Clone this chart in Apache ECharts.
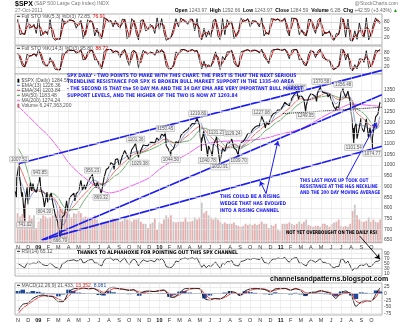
<!DOCTYPE html>
<html><head><meta charset="utf-8">
<script src="https://cdn.jsdelivr.net/npm/echarts@6/dist/echarts.min.js"></script>
<style>html,body{margin:0;padding:0;background:#fff}#c{width:400px;height:323px}</style>
</head><body><div id="c"></div>
<script>
// ---------------- DATA ----------------
const MONTH_LABELS = ['N','D','09','F','M','A','M','J','J','A','S','O','N','D','10','F','M','A','M','J','J','A','S','O','N','D','11','F','M','A','M','J','J','A','S','O'];
const PRICE_TICKS = [650,700,750,800,850,900,950,1000,1050,1100,1150,1200,1250,1300,1350];
const STO_TICKS = [20,50,80];
const RSI_TICKS = [10,30,50,70,90];
const MACD_TICKS = [25,0,-25,-50,-75];

const PRICE_DATES = ['2008-10-24','2008-10-27','2008-10-28','2008-10-31','2008-11-04','2008-11-05','2008-11-07','2008-11-12','2008-11-14','2008-11-20','2008-11-21','2008-11-21','2008-11-24','2008-11-28','2008-12-01','2008-12-05','2008-12-08','2008-12-12','2008-12-16','2008-12-19','2008-12-26','2008-12-31',
'2009-01-06','2009-01-09','2009-01-16','2009-01-20','2009-01-23','2009-01-28','2009-01-30','2009-02-02','2009-02-09','2009-02-13','2009-02-20','2009-02-27','2009-03-02','2009-03-06','2009-03-09','2009-03-13','2009-03-20','2009-03-26','2009-03-30','2009-04-03','2009-04-09','2009-04-17','2009-04-20','2009-04-24','2009-05-01','2009-05-08','2009-05-13','2009-05-15','2009-05-19','2009-05-22','2009-05-29','2009-06-05','2009-06-12','2009-06-15','2009-06-19','2009-06-23','2009-06-26','2009-07-02','2009-07-08','2009-07-10','2009-07-17','2009-07-24','2009-07-31','2009-08-07','2009-08-14','2009-08-17','2009-08-21','2009-08-28','2009-09-02','2009-09-11','2009-09-18','2009-09-25','2009-10-02','2009-10-09','2009-10-16','2009-10-21','2009-10-23','2009-10-30','2009-11-02','2009-11-06','2009-11-13','2009-11-20','2009-11-27','2009-12-04','2009-12-11','2009-12-18','2009-12-24','2009-12-31',
'2010-01-08','2010-01-15','2010-01-19','2010-01-22','2010-01-29','2010-02-05','2010-02-05','2010-02-12','2010-02-19','2010-02-26','2010-03-05','2010-03-12','2010-03-19','2010-03-26','2010-04-01','2010-04-09','2010-04-16','2010-04-23','2010-04-26','2010-04-30','2010-05-06','2010-05-06','2010-05-07','2010-05-13','2010-05-14','2010-05-21','2010-05-25','2010-05-28','2010-06-04','2010-06-08','2010-06-11','2010-06-18','2010-06-21','2010-06-25','2010-07-01','2010-07-02','2010-07-09','2010-07-16','2010-07-23','2010-07-30','2010-08-06','2010-08-09','2010-08-13','2010-08-20','2010-08-27','2010-08-27','2010-09-03','2010-09-10','2010-09-17','2010-09-24','2010-10-01','2010-10-08','2010-10-15','2010-10-22','2010-10-29','2010-11-05','2010-11-12','2010-11-16','2010-11-19','2010-11-26','2010-11-30','2010-12-03','2010-12-10','2010-12-17','2010-12-23','2010-12-31',
'2011-01-07','2011-01-14','2011-01-21','2011-01-28','2011-02-04','2011-02-11','2011-02-18','2011-02-23','2011-02-25','2011-03-04','2011-03-11','2011-03-16','2011-03-18','2011-03-25','2011-04-01','2011-04-08','2011-04-15','2011-04-18','2011-04-21','2011-04-29','2011-05-02','2011-05-06','2011-05-13','2011-05-20','2011-05-23','2011-05-27','2011-06-03','2011-06-10','2011-06-16','2011-06-17','2011-06-24','2011-07-01','2011-07-07','2011-07-08','2011-07-15','2011-07-22','2011-07-29','2011-08-04','2011-08-05','2011-08-08','2011-08-09','2011-08-09','2011-08-10','2011-08-12','2011-08-16','2011-08-19','2011-08-26','2011-08-31','2011-09-02','2011-09-09','2011-09-16','2011-09-22','2011-09-23','2011-09-27','2011-09-30','2011-10-03','2011-10-04','2011-10-04','2011-10-07','2011-10-14','2011-10-21','2011-10-26','2011-10-27','2011-10-27'];
const PRICE_VALUES = [876.77,848.92,940.51,968.75,1007.51,952.77,930.99,852.30,873.29,752.44,741.02,800.03,851.81,896.24,816.21,876.07,918.85,879.73,913.18,887.88,872.80,903.25,
943.85,890.35,850.12,804.30,831.95,874.09,825.88,825.44,869.89,826.84,770.05,735.09,700.82,666.79,676.53,756.55,768.54,832.86,787.53,842.50,856.56,869.60,832.39,866.23,877.52,929.23,883.92,882.88,908.13,887.00,919.14,940.09,956.23,923.72,921.23,895.10,918.90,896.42,869.32,879.13,940.38,979.26,987.48,1010.48,1004.09,979.73,1026.13,1028.93,994.75,1042.73,1068.30,1044.38,1025.21,1071.49,1087.68,1101.36,1079.60,1036.19,1029.38,1069.30,1093.48,1091.38,1091.49,1105.98,1106.41,1102.47,1126.48,1115.10,
1144.98,1136.03,1150.45,1091.76,1073.87,1044.50,1066.19,1075.51,1109.17,1104.49,1138.70,1149.99,1159.90,1166.59,1178.10,1194.37,1192.13,1217.28,1219.80,1186.69,1065.79,1128.15,1110.88,1157.44,1135.68,1087.69,1040.78,1089.41,1064.88,1042.17,1091.60,1117.51,1131.23,1076.76,1010.91,1022.58,1077.96,1064.88,1102.66,1101.60,1121.64,1129.24,1079.25,1071.69,1039.70,1064.59,1104.51,1109.55,1125.59,1148.67,1146.24,1165.15,1176.19,1183.08,1183.26,1227.08,1199.21,1173.00,1199.73,1189.40,1180.55,1224.71,1240.40,1243.91,1256.77,1257.64,
1271.50,1293.24,1283.35,1276.34,1310.87,1329.15,1344.07,1307.40,1319.88,1321.15,1304.28,1249.05,1279.21,1313.80,1332.41,1328.17,1319.68,1294.70,1337.38,1363.61,1370.58,1340.20,1337.77,1333.27,1317.37,1331.10,1300.16,1270.98,1258.07,1271.50,1268.45,1339.67,1356.48,1343.80,1316.14,1345.02,1292.28,1200.07,1199.38,1119.46,1101.54,1172.53,1120.76,1178.81,1192.76,1123.53,1176.80,1218.89,1173.97,1154.23,1216.01,1129.56,1136.43,1175.38,1131.42,1099.23,1074.77,1123.95,1155.46,1224.58,1238.25,1242.00,1292.66,1284.59];

// moving averages, 1st & ~15th of each month plus 27-Oct-2011
const EMA13 = [950,900,835,870, 885,880,840,840,775,720,780,835,860,895,905,930,920,900,955,1000,1020,1030,1050,1060,1065,1075,1095,1105, 1115,1135,1105,1080,1105,1140,1165,1190,1200,1150,1100,1095,1070,1065,1095,1100,1075,1105,1140,1165,1180,1200,1200,1235, 1255,1280,1290,1325,1325,1300,1310,1325,1345,1340,1330,1285,1310,1330,1310,1190,1185,1180,1160,1170,1226.36];
const EMA34 = [1010,960,900,880, 878,875,858,850,815,775,785,805,835,860,885,910,915,910,935,965,990,1010,1035,1050,1060,1065,1080,1095, 1105,1120,1115,1100,1105,1125,1145,1165,1180,1165,1135,1115,1090,1080,1085,1095,1085,1095,1120,1145,1165,1185,1195,1215, 1230,1250,1270,1295,1310,1305,1305,1315,1325,1335,1330,1310,1305,1315,1310,1250,1225,1205,1180,1175,1203.84];
const MA50 = [1080,1038,963,890, 880,873,862,866,846,810,789,792,795,829,863,892,906,913,925,945,961,985,1019,1035,1053,1061,1070,1080, 1092,1105,1110,1105,1105,1110,1115,1135,1165,1172,1160,1140,1115,1090,1080,1085,1077,1088,1102,1118,1135,1160,1175,1195, 1210,1232,1248,1272,1290,1303,1307,1316,1318,1322,1327,1320,1313,1315,1305,1265,1250,1230,1195,1170,1183.48];
// 200-day MA on the 1st of each month plus 27-Oct-2011
const MA200 = [1275,1230, 1182,1137,1079,1012,964,926,890,870,879,899,918,941, 980,1011,1032,1058,1089,1103,1110,1112,1113,1116,1121,1131, 1145,1155,1169,1193,1220,1245,1267,1285,1282,1278,1274.24];

// weekly (Fridays from 31-Oct-2008), volume in billions
const VOLUME = [7.0,6.2,6.8,9.0,4.5,6.5,5.8,6.5,3.5,
5.0,5.8,6.5,6.2,5.8, 6.0,6.5,6.8,7.5, 8.5,8.0,7.5,7.2, 6.8,6.0,7.0,6.8, 7.5,7.0,6.0,6.2,6.0, 6.0,5.5,6.5,5.5, 4.5,4.8,5.0,5.0,5.2, 5.5,5.8,5.5,5.5, 5.0,5.2,6.0,5.5, 5.5,5.0,5.5,5.5,5.8, 5.0,4.5,4.5,3.5, 4.5,4.8,5.8,3.0,
4.8,4.5,5.5,6.5,6.0, 6.5,5.0,4.8,5.0, 5.0,5.0,6.0,5.0, 5.0,5.2,6.0,5.5,6.0, 9.5,7.0,7.5,6.5, 6.0,5.5,6.0,5.5, 5.0,4.5,4.8,4.5,4.5, 4.5,4.8,4.2,4.0, 3.8,4.0,4.5,4.2, 4.5,4.2,4.5,4.2,4.5, 5.0,4.5,4.5,3.5, 4.2,4.0,4.5,3.0,2.8,
4.5,4.5,4.5,4.8, 4.5,4.2,4.5,5.0, 4.5,5.0,5.5,4.2, 4.0,3.8,4.0,4.0,3.8, 4.5,4.5,4.2,3.8, 4.5,4.8,5.0,5.5, 4.0,3.8,4.0,3.8,4.5, 7.5,9.0,6.5,5.5, 5.0,5.0,5.2,6.0,5.0, 5.5,5.0,4.8,5.5];
const STO5_K = [90,30,35,30,92,55,60,70,35,
93,25,35,45,30, 88,20,8,15, 12,92,70,80, 88,85,82,55, 75,85,15,40,88, 80,78,25,55, 20,15,95,90,80, 85,60,85,65, 55,90,88,15, 25,92,80,35,10, 85,88,45,50, 70,60,35,95,
50,92,40,8,15, 20,55,92,60, 95,85,80,70, 90,90,45,92,20, 10,55,20,45, 20,85,90,25, 10,92,30,88,70, 80,15,30,45, 95,80,85,92, 60,85,82,75,60, 95,25,40,30, 92,90,85,92,80,
85,95,45,25, 95,92,90,30, 50,30,25,90, 88,55,35,85,95, 25,40,35,45, 15,8,35,30, 97,85,20,90,8, 5,45,12,75, 30,20,95,10,35, 70,95,80,73];
const STO5_D = [85,55,33,32,60,72,58,65,52,
65,58,30,40,38, 60,52,15,12, 14,50,82,75, 85,86,83,70, 65,80,50,28,65, 85,80,50,40, 38,18,55,92,85, 82,72,72,75, 60,72,90,52, 20,58,85,58,22, 48,86,66,48, 60,65,48,65,
72,71,66,24,12, 18,38,74,76, 78,90,83,75, 80,90,68,69,56, 15,33,38,33, 33,53,88,58, 18,51,61,59,79, 75,48,23,38, 70,88,83,89, 76,73,84,79,68, 78,60,33,35, 61,91,88,89,86,
83,90,70,35, 60,94,91,60, 40,40,28,58, 89,72,45,60,90, 60,33,38,40, 30,12,22,33, 64,91,53,55,49, 7,25,29,44, 53,25,58,53,23, 53,83,88,77];
const STO14_K = [80,55,25,20,75,65,70,80,65,
95,65,35,25,25, 60,35,10,8, 8,80,75,90, 92,90,92,78, 85,95,50,55,85, 92,90,50,50, 25,12,85,95,95, 95,80,90,85, 60,88,95,50, 25,85,92,75,15, 60,92,80,75, 85,80,70,95,
80,95,78,25,12, 12,30,85,75, 95,95,92,85, 92,95,85,92,50, 12,45,15,30, 20,55,85,45, 8,65,50,85,85, 92,40,25,20, 85,88,92,95, 85,92,92,88,80, 97,65,50,35, 88,95,95,97,92,
92,97,80,55, 92,95,95,50, 55,30,25,75, 92,85,60,88,97, 60,55,45,50, 15,8,20,25, 97,92,50,80,15, 3,30,12,55, 55,40,90,15,25, 55,92,88,96];
const STO14_D = [78,68,40,22,45,70,68,75,72,
80,82,50,30,25, 45,48,22,9, 8,45,78,82, 91,91,91,85, 82,90,72,52,70, 88,91,70,50, 38,18,50,90,95, 95,88,85,88, 72,74,92,72, 38,55,88,83,45, 38,76,86,78, 80,82,75,82,
88,88,86,50,18, 12,21,58,80, 85,95,93,88, 88,93,90,88,71, 31,28,30,22, 25,38,70,65, 27,37,58,68,85, 88,66,32,22, 52,86,90,93, 90,88,92,90,84, 88,81,57,42, 61,91,95,96,94,
92,95,88,68, 73,93,95,72, 52,42,28,50, 84,88,72,74,92, 78,58,50,48, 32,12,14,22, 61,94,71,65,48, 9,16,21,33, 55,48,65,52,20, 40,73,90,89];
const RSI14 = [50,45,38,33,52,48,50,52,49,
60,52,45,42,42, 52,44,35,32, 27,50,52,60, 62,63,65,60, 62,70,52,55,62, 65,66,52,52, 45,40,62,70,70, 72,62,68,66, 55,65,72,55, 45,62,68,60,40, 55,65,60,58, 63,60,57,70,
62,70,60,38,35, 33,42,60,57, 68,70,72,68, 70,73,68,72,52, 35,45,33,42, 38,47,56,42, 30,52,47,58,57, 62,45,42,40, 58,60,64,70, 65,70,70,68,65, 75,55,52,48, 62,68,68,72,70,
70,75,62,55, 68,72,74,52, 52,45,40,58, 64,60,55,62,70, 55,54,50,50, 38,32,38,38, 68,66,50,60,40, 22,32,28,42, 44,42,52,37,38, 48,58,59,65];
// MACD, 1st & ~15th of each month plus 27-Oct-2011
const MACD = [-65,-40,-35,-18, -8,-5,-10,-12,-30,-30,5,18,20,22,18,20,8,-2,20,24,18,16,12,15,-2,8,10,8, 12,14,-12,-14,3,18,20,20,18,-18,-25,-18,-20,-10,8,5,-8,10,18,20,18,15,6,18, 20,20,12,20,12,-5,5,6,12,6,0,-18,5,10,-5,-48,-30,-25,-28,0,21.433];
const MACD_SIGNAL = [-75,-55,-40,-28, -15,-8,-8,-10,-20,-27,-10,8,16,20,19,19,13,5,10,19,19,17,14,14,6,5,8,8, 10,12,0,-10,-5,8,16,19,19,0,-18,-19,-19,-14,-2,4,-2,1,12,17,18,17,10,13, 18,19,15,17,15,4,1,4,9,8,3,-8,-3,5,2,-28,-35,-28,-27,-12,13.352];
const MACD_HIST = [10,15,5,10, 7,3,-2,-2,-10,-3,15,10,4,2,-1,1,-5,-7,10,5,-1,-1,-2,1,-8,3,2,0, 2,2,-12,-4,8,10,4,1,-1,-18,-7,1,-1,4,10,1,-6,9,6,3,0,-2,-4,5, 2,1,-3,3,-3,-9,4,2,3,-2,-3,-10,8,5,-7,-20,5,3,-1,12,8.081];

// labelled highs / lows: [date, value, below?]
const PRICE_LABELS = [['2008-11-04',1007.51,0],['2008-11-21',741.02,1],['2009-01-06',943.85,0],['2009-01-20',804.30,1],['2009-03-06',666.79,1],['2009-06-12',956.23,0],['2009-07-08',869.32,1],['2009-10-21',1101.36,0],['2009-11-02',1029.38,1],['2010-01-19',1150.45,0],['2010-02-05',1044.50,1],['2010-04-26',1219.80,0],['2010-05-25',1040.78,1],['2010-06-21',1131.23,0],['2010-07-01',1010.91,1],['2010-08-09',1129.24,0],['2010-08-27',1039.70,1],['2010-11-05',1227.08,0],['2011-02-18',1344.07,0],['2011-03-16',1249.05,1],['2011-05-02',1370.58,0],['2011-07-07',1356.48,0],['2011-08-09',1101.54,1],['2011-10-04',1074.77,1]];
// drawn trendlines: [date1, price1, date2, price2]
const TRENDLINES = [['2008-11-04',1007.5,'2011-11-02',1442],['2009-01-12',650,'2011-11-02',1328],['2009-01-12',650,'2011-11-02',1088]];
const NECKLINE = [['2011-01-08',1240,'2011-11-02',1270]];
const BLUE_ARROWS = [['2010-11-18',867,'2010-12-24',1112],['2010-11-18',867,'2010-10-31',925],['2011-07-18',939,'2011-10-17',1198]];
const BLACK_ARROWS = [['2011-08-27',669,'2011-10-27',561]];

// ---------------- BUILD ----------------
function mOf(y, mo0, d){ const dim = new Date(y, mo0+1, 0).getDate(); return (y-2008)*12 + (mo0-10) + (d-1)/dim; }
function toM(s){ const p = s.split('-').map(Number); return mOf(p[0], p[1]-1, p[2]); }
function weekM(i){ const dt = new Date(2008, 9, 31 + 7*i); return mOf(dt.getFullYear(), dt.getMonth(), dt.getDate()); }
const HALF_M = []; for (let k = 0; k < 36; k++) { HALF_M.push(k, k + 14/30); } HALF_M.push(toM('2011-10-27'));
const MONTH_M = []; for (let k = 0; k < 36; k++) MONTH_M.push(k); MONTH_M.push(toM('2011-10-27'));
const MONTH_TICKS = MONTH_LABELS.map((_, i) => i);
const XMIN = -0.3, XMAX = 36.05;
const FONT = '"Liberation Sans", Arial, sans-serif';
const NARROW = '"Liberation Sans Narrow", "DejaVu Sans Condensed", "Liberation Sans", sans-serif';

const weekly = arr => arr.map((v, i) => [weekM(i), v]);
const half = arr => arr.map((v, i) => [HALF_M[i], v]);

function xAx(gi, showLabels){
  return {type:'value', gridIndex:gi, min:XMIN, max:XMAX, axisLine:{show:false}, axisTick:{show:false}, splitLine:{show:false},
    axisLabel: showLabels ? {show:true, customValues:MONTH_TICKS, margin:2, fontSize:5.5, fontFamily:FONT, color:'#333',
      formatter: v => { const t = MONTH_LABELS[Math.round(v)] || ''; return /\d/.test(t) ? '{y|' + t + '}' : t; },
      rich:{y:{fontWeight:'bold', fontSize:5.5, fontFamily:FONT, color:'#111'}}} : {show:false}};
}
function yAx(gi, min, max, ticks, show){
  return {type:'value', gridIndex:gi, min, max, position:'right', axisLine:{show:false}, axisTick:{show:false}, splitLine:{show:false},
    axisLabel:{show: show !== false, customValues:ticks, margin:2, fontSize:5, fontFamily:FONT, color:'#444', formatter: v => String(v)}};
}
function gridLines(gi, yi, levels, strong){
  const data = MONTH_TICKS.map(m => ({xAxis:m}));
  levels.forEach(v => data.push({yAxis:v, lineStyle:{color: (strong && strong.indexOf(v) >= 0) ? '#bdbdbd' : '#e0e0e0', width:0.6}}));
  return {type:'line', xAxisIndex:gi, yAxisIndex:yi, data:[], z:0, silent:true,
    markLine:{silent:true, symbol:['none','none'], animation:false, label:{show:false}, lineStyle:{color:'#e6e6e6', width:0.6, type:'solid'}, data}};
}
function ln(gi, yi, data, color, width, z, smooth){
  return {type:'line', xAxisIndex:gi, yAxisIndex:yi, data, showSymbol:false, symbol:'none', smooth: smooth || false, lineStyle:{color, width}, z: z || 2, silent:true};
}
function segs(list){ return list.map(t => ({coords:[[toM(t[0]), t[1]], [toM(t[2]), t[3]]]})); }

const gridBase = {left:15, right:18, show:true, borderColor:'#a0a0a0', borderWidth:0.8, backgroundColor:'#fff'};

const series = [
  // STO 5
  gridLines(0, 0, STO_TICKS, [20,80]),
  ln(0, 0, weekly(STO5_D), '#d40000', 1, 2),
  ln(0, 0, weekly(STO5_K), '#000', 0.8, 3),
  // STO 14
  gridLines(1, 1, STO_TICKS, [20,80]),
  ln(1, 1, weekly(STO14_D), '#d40000', 1, 2),
  ln(1, 1, weekly(STO14_K), '#000', 0.8, 3),
  // main
  gridLines(2, 2, PRICE_TICKS),
  {type:'bar', xAxisIndex:2, yAxisIndex:3, data: weekly(VOLUME), barWidth:1.8, z:1, silent:true,
    itemStyle:{color: p => (p.dataIndex % 3 === 1) ? 'rgba(150,150,150,0.55)' : 'rgba(205,95,95,0.5)'}},
  ln(2, 2, MONTH_M.map((m, i) => [m, MA200[i]]), '#f060f0', 1, 2, 0.3),
  ln(2, 2, half(MA50), '#2f8a2f', 0.7, 2, 0.3),
  ln(2, 2, half(EMA34), '#e03030', 0.7, 2, 0.3),
  ln(2, 2, half(EMA13), '#4060c0', 0.6, 2, 0.3),
  ln(2, 2, PRICE_DATES.map((d, i) => [toM(d), PRICE_VALUES[i]]), '#111', 1.1, 3),
  {type:'lines', coordinateSystem:'cartesian2d', xAxisIndex:2, yAxisIndex:2, clip:false, z:4, silent:true,
    lineStyle:{color:'#1c1cf0', width:1.7, opacity:1}, data: segs(TRENDLINES)},
  {type:'lines', coordinateSystem:'cartesian2d', xAxisIndex:2, yAxisIndex:2, clip:false, z:4, silent:true,
    lineStyle:{color:'#000', width:1, type:'dotted', opacity:1}, data: segs(NECKLINE)},
  {type:'lines', coordinateSystem:'cartesian2d', xAxisIndex:2, yAxisIndex:2, clip:false, z:5, silent:true,
    symbol:['none','arrow'], symbolSize:5, lineStyle:{color:'#1c1cf0', width:1, opacity:1}, data: segs(BLUE_ARROWS)},
  {type:'lines', coordinateSystem:'cartesian2d', xAxisIndex:2, yAxisIndex:2, clip:false, z:5, silent:true,
    symbol:['none','arrow'], symbolSize:5, lineStyle:{color:'#000', width:0.9, opacity:1}, data: segs(BLACK_ARROWS)},
  {type:'scatter', xAxisIndex:2, yAxisIndex:2, symbolSize:0, z:6, silent:true, clip:false,
    data: PRICE_LABELS.map(p => ({value:[toM(p[0]), p[1]], label:{position: p[2] ? 'bottom' : 'top'}})),
    label:{show:true, distance:1.5, fontSize:4.5, fontFamily:FONT, color:'#333', backgroundColor:'#f3f3f3', borderColor:'#9a9a9a', borderWidth:0.5, padding:[0.5,1,0,1],
      formatter: p => p.value[1].toFixed(2)}},
  // RSI
  gridLines(3, 4, RSI_TICKS, [30,70]),
  ln(3, 4, weekly(RSI14), '#111', 0.8, 3),
  // MACD
  gridLines(4, 5, MACD_TICKS, [0]),
  {type:'bar', xAxisIndex:4, yAxisIndex:5, data: half(MACD_HIST), barWidth:4.6, z:1, silent:true, itemStyle:{color:'#1d4a9c'}},
  ln(4, 5, half(MACD_SIGNAL), '#e02020', 0.9, 2, 0.2),
  ln(4, 5, half(MACD), '#111', 0.9, 3, 0.2)
];

function txt(text, x, y, opt, sx){
  opt = opt || {};
  return {type:'text', x, y, z:50, silent:true, scaleX: sx || 1, style:Object.assign({text, fill:'#333', font:'5px ' + FONT, verticalAlign:'middle', align:'left'}, opt)};
}
const BLUE = '#1c1cf0';
const bBold = (s, sx) => txt(s[0], s[1], s[2], {fill:BLUE, font:'bold 5px ' + NARROW}, sx);
const kBold = (s, sx) => txt(s[0], s[1], s[2], {fill:'#000', font:'bold 5px ' + NARROW}, sx);

const graphics = [
  txt('{t|$SPX} (S&P 500 Large Cap Index) INDX', 15, 4, {fill:'#777', rich:{t:{font:'bold 7px ' + FONT, fill:'#000'}}}),
  txt('27-Oct-2011', 15, 10.5, {fill:'#777'}),
  txt('@StockCharts.com', 398, 4, {fill:'#777', align:'right'}),
  txt('{b|Open} 1243.97  {b|High} 1292.66  {b|Low} 1243.97  {b|Close} 1284.59  {b|Volume} 6.2B  {b|Chg} +42.59 (+3.43%) {g|▲}', 398, 10.5,
      {fill:'#666', align:'right', rich:{b:{font:'bold 5px ' + FONT, fill:'#000'}, g:{fill:'#1a9a1a', font:'5px ' + FONT}}}),
  txt('{k|━} Full STO %K(5,3) %D(3) 72.85, {r|76.91}', 17, 17, {fill:'#555', rich:{k:{fill:'#000'}, r:{fill:'#d40000'}}}),
  txt('{k|━} Full STO %K(14,3) %D(3) 95.80, {r|88.72}', 17, 49, {fill:'#555', rich:{k:{fill:'#000'}, r:{fill:'#d40000'}}}),
  txt('{k|▮} $SPX (Daily) 1284.59', 17, 80.5, {fill:'#555', rich:{k:{fill:'#000'}}}),
  txt('{k|━} EMA(13) 1226.36', 17, 85.5, {fill:'#555', rich:{k:{fill:'#4060c0'}}}),
  txt('{k|━} EMA(34) 1203.84', 17, 90.5, {fill:'#555', rich:{k:{fill:'#e03030'}}}),
  txt('{k|━} MA(50) 1183.48', 17, 95.5, {fill:'#555', rich:{k:{fill:'#2f8a2f'}}}),
  txt('{k|━} MA(200) 1274.24', 17, 100.5, {fill:'#555', rich:{k:{fill:'#f060f0'}}}),
  txt('{k|▮} Volume 6,247,363,200', 17, 105.5, {fill:'#555', rich:{k:{fill:'#c06060'}}}),
  txt('{k|━} RSI(14) 65.12', 17, 252, {fill:'#555', rich:{k:{fill:'#000'}}}),
  txt('{k|━} MACD(12,26,9) 21.433, {r|13.352}, {b|8.081}', 17, 286, {fill:'#555', rich:{k:{fill:'#000'}, r:{fill:'#e02020'}, b:{fill:'#1d4a9c'}}}),
  bBold(['SPX DAILY - TWO POINTS TO MAKE WITH THIS CHART. THE FIRST IS THAT THE NEXT SERIOUS', 67, 76], 0.98),
  bBold(['TRENDLINE RESISTANCE FOR SPX IS BROKEN BULL MARKET SUPPORT IN THE 1335-40 AREA', 67, 82], 0.98),
  bBold(['- THE SECOND IS THAT the 50 DAY MA AND THE 34 DAY EMA ARE VERY IMPORTANT BULL MARKET', 67, 89], 0.96),
  bBold(['SUPPORT LEVELS, AND THE HIGHER OF THE TWO IS NOW AT 1203.84', 67, 96], 0.98),
  bBold(['THIS COULD BE A RISING', 220, 197], 0.95),
  bBold(['WEDGE THAT HAS EVOLVED', 220, 204], 0.95),
  bBold(['INTO A RISING CHANNEL', 220, 211], 0.95),
  bBold(['THIS LAST MOVE UP TOOK OUT', 300, 181], 0.87),
  bBold(['RESISTANCE AT THE H&S NECKLINE', 300, 187], 0.87),
  bBold(['AND THE 200 DAY MOVING AVERAGE', 300, 193], 0.87),
  kBold(['NOT YET OVERBOUGHT ON THE DAILY RSI', 286, 233], 0.87),
  kBold(['THANKS TO ALPHAHOXIE FOR POINTING OUT THIS SPX CHANNEL', 77, 252.5], 0.98),
  txt('channelsandpatterns.blogspot.com', 270, 279, {fill:'#000', font:'bold 7px ' + FONT})
];

const option = {
  animation:false,
  backgroundColor:'#fff',
  grid:[
    Object.assign({top:14, height:31}, gridBase),
    Object.assign({top:46, height:28}, gridBase),
    Object.assign({top:74, height:168.75}, gridBase),
    Object.assign({top:249, height:27}, gridBase),
    Object.assign({top:283, height:33.6}, gridBase)
  ],
  xAxis:[xAx(0,false), xAx(1,false), xAx(2,true), xAx(3,false), xAx(4,true)],
  yAxis:[
    yAx(0, -10, 110, STO_TICKS),
    yAx(1, -10, 110, STO_TICKS),
    yAx(2, 637.5, 1425, PRICE_TICKS),
    Object.assign(yAx(2, 0, 40, [], false), {show:false}),
    yAx(3, 0, 108, RSI_TICKS),
    yAx(4, -80, 40, MACD_TICKS)
  ],
  series,
  graphic: graphics
};
const chart = echarts.init(document.getElementById('c'), null, {renderer:'canvas', width:400, height:323});
chart.setOption(option);
</script></body></html>
